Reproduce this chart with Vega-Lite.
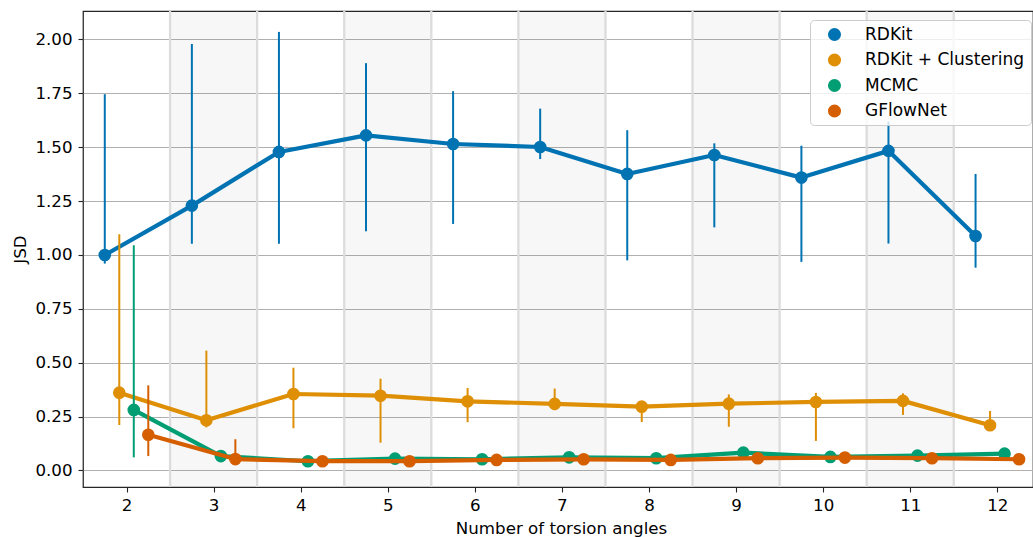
{
  "$schema": "https://vega.github.io/schema/vega-lite/v6.json",
  "width": 950,
  "height": 476,
  "autosize": "none",
  "padding": {"left": 83, "top": 11, "right": 0, "bottom": 50},
  "background": "white",
  "config": {
    "font": "DejaVu Sans",
    "view": {"stroke": "#262626", "strokeWidth": 1.25},
    "axis": {
      "labelFont": "DejaVu Sans",
      "titleFont": "DejaVu Sans",
      "labelFontSize": 16.67,
      "titleFontSize": 16.67,
      "titleFontWeight": "normal",
      "labelColor": "#000000",
      "titleColor": "#000000",
      "tickColor": "#262626",
      "tickWidth": 1.1,
      "tickSize": 5,
      "domain": false
    },
    "legend": {
      "labelFont": "DejaVu Sans",
      "labelFontSize": 17,
      "labelColor": "#000000"
    }
  },
  "datasets": {
    "bands": [
      {"start": 2.5, "end": 3.5},
      {"start": 4.5, "end": 5.5},
      {"start": 6.5, "end": 7.5},
      {"start": 8.5, "end": 9.5},
      {"start": 10.5, "end": 11.5}
    ],
    "jsd": [
      {"n": 2, "method": "RDKit", "jsd": 1.000, "lo": 0.960, "hi": 1.746},
      {"n": 3, "method": "RDKit", "jsd": 1.229, "lo": 1.052, "hi": 1.979},
      {"n": 4, "method": "RDKit", "jsd": 1.478, "lo": 1.052, "hi": 2.035},
      {"n": 5, "method": "RDKit", "jsd": 1.555, "lo": 1.110, "hi": 1.890},
      {"n": 6, "method": "RDKit", "jsd": 1.515, "lo": 1.144, "hi": 1.760},
      {"n": 7, "method": "RDKit", "jsd": 1.501, "lo": 1.445, "hi": 1.679},
      {"n": 8, "method": "RDKit", "jsd": 1.376, "lo": 0.975, "hi": 1.579},
      {"n": 9, "method": "RDKit", "jsd": 1.464, "lo": 1.128, "hi": 1.518},
      {"n": 10, "method": "RDKit", "jsd": 1.359, "lo": 0.968, "hi": 1.507},
      {"n": 11, "method": "RDKit", "jsd": 1.483, "lo": 1.053, "hi": 1.619},
      {"n": 12, "method": "RDKit", "jsd": 1.088, "lo": 0.941, "hi": 1.376},
      {"n": 2, "method": "RDKit + Clustering", "jsd": 0.361, "lo": 0.211, "hi": 1.096},
      {"n": 3, "method": "RDKit + Clustering", "jsd": 0.233, "lo": 0.200, "hi": 0.556},
      {"n": 4, "method": "RDKit + Clustering", "jsd": 0.355, "lo": 0.196, "hi": 0.477},
      {"n": 5, "method": "RDKit + Clustering", "jsd": 0.347, "lo": 0.129, "hi": 0.426},
      {"n": 6, "method": "RDKit + Clustering", "jsd": 0.321, "lo": 0.224, "hi": 0.383},
      {"n": 7, "method": "RDKit + Clustering", "jsd": 0.309, "lo": 0.280, "hi": 0.380},
      {"n": 8, "method": "RDKit + Clustering", "jsd": 0.296, "lo": 0.225, "hi": 0.310},
      {"n": 9, "method": "RDKit + Clustering", "jsd": 0.310, "lo": 0.203, "hi": 0.353},
      {"n": 10, "method": "RDKit + Clustering", "jsd": 0.318, "lo": 0.137, "hi": 0.360},
      {"n": 11, "method": "RDKit + Clustering", "jsd": 0.323, "lo": 0.258, "hi": 0.358},
      {"n": 12, "method": "RDKit + Clustering", "jsd": 0.210, "lo": 0.190, "hi": 0.276},
      {"n": 2, "method": "MCMC", "jsd": 0.281, "lo": 0.061, "hi": 1.045},
      {"n": 3, "method": "MCMC", "jsd": 0.067, "lo": 0.058, "hi": 0.078},
      {"n": 4, "method": "MCMC", "jsd": 0.043, "lo": 0.038, "hi": 0.049},
      {"n": 5, "method": "MCMC", "jsd": 0.055, "lo": 0.048, "hi": 0.062},
      {"n": 6, "method": "MCMC", "jsd": 0.052, "lo": 0.046, "hi": 0.058},
      {"n": 7, "method": "MCMC", "jsd": 0.061, "lo": 0.054, "hi": 0.068},
      {"n": 8, "method": "MCMC", "jsd": 0.057, "lo": 0.050, "hi": 0.064},
      {"n": 9, "method": "MCMC", "jsd": 0.083, "lo": 0.073, "hi": 0.093},
      {"n": 10, "method": "MCMC", "jsd": 0.063, "lo": 0.056, "hi": 0.070},
      {"n": 11, "method": "MCMC", "jsd": 0.069, "lo": 0.061, "hi": 0.077},
      {"n": 12, "method": "MCMC", "jsd": 0.078, "lo": 0.069, "hi": 0.087},
      {"n": 2, "method": "GFlowNet", "jsd": 0.166, "lo": 0.067, "hi": 0.395},
      {"n": 3, "method": "GFlowNet", "jsd": 0.053, "lo": 0.040, "hi": 0.145},
      {"n": 4, "method": "GFlowNet", "jsd": 0.043, "lo": 0.038, "hi": 0.049},
      {"n": 5, "method": "GFlowNet", "jsd": 0.043, "lo": 0.038, "hi": 0.049},
      {"n": 6, "method": "GFlowNet", "jsd": 0.049, "lo": 0.043, "hi": 0.055},
      {"n": 7, "method": "GFlowNet", "jsd": 0.052, "lo": 0.046, "hi": 0.058},
      {"n": 8, "method": "GFlowNet", "jsd": 0.049, "lo": 0.043, "hi": 0.055},
      {"n": 9, "method": "GFlowNet", "jsd": 0.057, "lo": 0.050, "hi": 0.064},
      {"n": 10, "method": "GFlowNet", "jsd": 0.060, "lo": 0.053, "hi": 0.067},
      {"n": 11, "method": "GFlowNet", "jsd": 0.057, "lo": 0.050, "hi": 0.064},
      {"n": 12, "method": "GFlowNet", "jsd": 0.052, "lo": 0.046, "hi": 0.058}
    ]
  },
  "encoding": {
    "x": {
      "field": "n",
      "type": "quantitative",
      "title": "Number of torsion angles",
      "scale": {"domain": [1.5, 12.41], "nice": false, "zero": false},
      "axis": {"values": [2, 3, 4, 5, 6, 7, 8, 9, 10, 11, 12], "format": "d", "grid": false, "labelPadding": 5, "titleY": 46, "titleBaseline": "alphabetic", "titleX": 478}
    },
    "y": {
      "field": "jsd",
      "type": "quantitative",
      "title": "JSD",
      "scale": {"domain": [-0.0766, 2.132], "nice": false, "zero": false},
      "axis": {
        "values": [0, 0.25, 0.5, 0.75, 1, 1.25, 1.5, 1.75, 2],
        "format": ".2f",
        "grid": true,
        "gridColor": "#b0b0b0",
        "gridWidth": 1.1,
        "labelPadding": 6,
        "titleX": -58,
        "titleBaseline": "alphabetic"
      }
    },
    "color": {
      "field": "method",
      "type": "nominal",
      "title": null,
      "scale": {"domain": ["RDKit", "RDKit + Clustering", "MCMC", "GFlowNet"], "range": ["#0173b2", "#de8f05", "#029e73", "#d55e00"]},
      "legend": {
        "orient": "none",
        "legendX": 727,
        "legendY": 9,
        "symbolType": "circle",
        "symbolSize": 170,
        "symbolStrokeWidth": 0,
        "symbolOpacity": 1,
        "symbolOffset": 10,
        "labelOffset": 22,
        "rowPadding": 7.5,
        "padding": 6,
        "fillColor": "rgba(255,255,255,0.8)",
        "strokeColor": "#cccccc",
        "cornerRadius": 4
      }
    }
  },
  "layer": [
    {
      "data": {"name": "bands"},
      "mark": {"type": "rect", "fill": "#000000", "opacity": 0.03},
      "encoding": {
        "x": {"field": "start", "type": "quantitative"},
        "x2": {"field": "end"},
        "y": null,
        "color": null
      }
    },
    {
      "data": {"name": "bands"},
      "mark": {"type": "rule", "color": "#dcdcdc", "strokeWidth": 2.3},
      "encoding": {"x": {"field": "start", "type": "quantitative"}, "y": null, "color": null}
    },
    {
      "data": {"name": "bands"},
      "mark": {"type": "rule", "color": "#dcdcdc", "strokeWidth": 2.3},
      "encoding": {"x": {"field": "end", "type": "quantitative"}, "y": null, "color": null}
    },
    {
      "data": {"name": "jsd"},
      "transform": [{"filter": "datum.method === 'RDKit'"}],
      "layer": [
        {"mark": {"type": "rule", "strokeWidth": 2, "xOffset": -21.75}, "encoding": {"y": {"field": "lo", "type": "quantitative"}, "y2": {"field": "hi"}}},
        {"mark": {"type": "line", "strokeWidth": 4.2, "strokeJoin": "round", "xOffset": -21.75}},
        {"mark": {"type": "point", "filled": true, "opacity": 1, "size": 160, "shape": "circle", "xOffset": -21.75}}
      ]
    },
    {
      "data": {"name": "jsd"},
      "transform": [{"filter": "datum.method === 'RDKit + Clustering'"}],
      "layer": [
        {"mark": {"type": "rule", "strokeWidth": 2, "xOffset": -7.25}, "encoding": {"y": {"field": "lo", "type": "quantitative"}, "y2": {"field": "hi"}}},
        {"mark": {"type": "line", "strokeWidth": 4.2, "strokeJoin": "round", "xOffset": -7.25}},
        {"mark": {"type": "point", "filled": true, "opacity": 1, "size": 160, "shape": "circle", "xOffset": -7.25}}
      ]
    },
    {
      "data": {"name": "jsd"},
      "transform": [{"filter": "datum.method === 'MCMC'"}],
      "layer": [
        {"mark": {"type": "rule", "strokeWidth": 2, "xOffset": 7.25}, "encoding": {"y": {"field": "lo", "type": "quantitative"}, "y2": {"field": "hi"}}},
        {"mark": {"type": "line", "strokeWidth": 4.2, "strokeJoin": "round", "xOffset": 7.25}},
        {"mark": {"type": "point", "filled": true, "opacity": 1, "size": 160, "shape": "circle", "xOffset": 7.25}}
      ]
    },
    {
      "data": {"name": "jsd"},
      "transform": [{"filter": "datum.method === 'GFlowNet'"}],
      "layer": [
        {"mark": {"type": "rule", "strokeWidth": 2, "xOffset": 21.75}, "encoding": {"y": {"field": "lo", "type": "quantitative"}, "y2": {"field": "hi"}}},
        {"mark": {"type": "line", "strokeWidth": 4.2, "strokeJoin": "round", "xOffset": 21.75}},
        {"mark": {"type": "point", "filled": true, "opacity": 1, "size": 160, "shape": "circle", "xOffset": 21.75}}
      ]
    }
  ]
}
